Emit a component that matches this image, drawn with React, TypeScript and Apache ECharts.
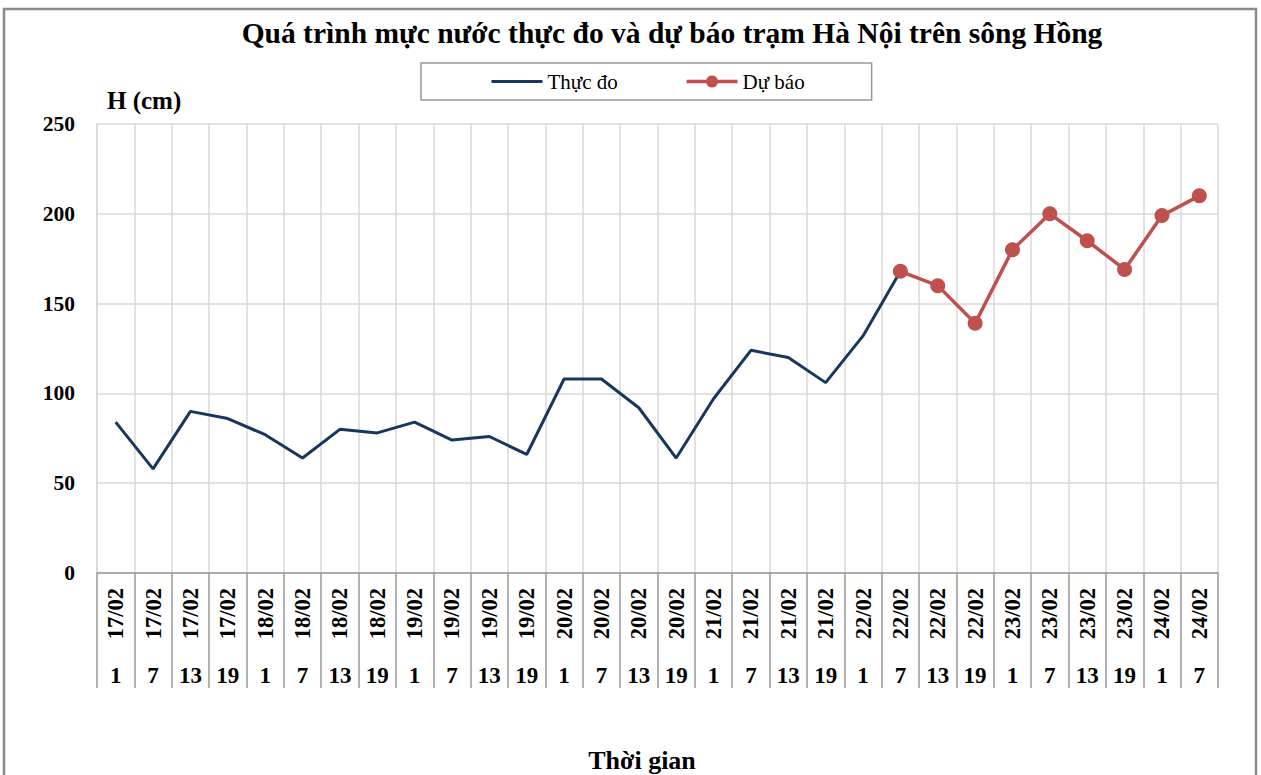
import React, { useEffect, useRef } from "react";
import * as echarts from "echarts";

const dates = [
  "17/02", "17/02", "17/02", "17/02",
  "18/02", "18/02", "18/02", "18/02",
  "19/02", "19/02", "19/02", "19/02",
  "20/02", "20/02", "20/02", "20/02",
  "21/02", "21/02", "21/02", "21/02",
  "22/02", "22/02", "22/02", "22/02",
  "23/02", "23/02", "23/02", "23/02",
  "24/02", "24/02",
];
const hours = [
  "1", "7", "13", "19", "1", "7", "13", "19", "1", "7", "13", "19",
  "1", "7", "13", "19", "1", "7", "13", "19", "1", "7", "13", "19",
  "1", "7", "13", "19", "1", "7",
];
const observed: (number | null)[] = [
  84, 58, 90, 86, 77, 64, 80, 78, 84, 74, 76, 66,
  108, 108, 92, 64, 97, 124, 120, 106, 132, 168,
  null, null, null, null, null, null, null, null,
];
const forecast: (number | null)[] = [
  null, null, null, null, null, null, null, null, null, null, null, null,
  null, null, null, null, null, null, null, null, null,
  168, 160, 139, 180, 200, 185, 169, 199, 210,
];
const yTicks = { min: 0, max: 250, interval: 50 };

const FONT = "'Liberation Serif', 'Times New Roman', serif";

export default function App() {
  const ref = useRef<HTMLDivElement>(null);
  useEffect(() => {
    if (!ref.current) return;
    const chart = echarts.init(ref.current, undefined, { renderer: "svg" });
    chart.setOption({
      animation: false,
      backgroundColor: "#ffffff",
      textStyle: { fontFamily: FONT },
      graphic: [
        {
          type: "rect",
          shape: { x: 4, y: 9, width: 1252, height: 820 },
          style: { fill: "none", stroke: "#8c8c8c", lineWidth: 2.5 },
          silent: true,
        },
        {
          type: "text",
          x: 672,
          y: 33,
          style: {
            text: "Quá trình mực nước thực đo và dự báo trạm Hà Nội trên sông Hồng",
            font: `bold 29.5px ${FONT}`,
            fill: "#000",
            align: "center",
            verticalAlign: "middle",
          },
        },
        {
          type: "text",
          x: 107,
          y: 100,
          style: {
            text: "H (cm)",
            font: `bold 25px ${FONT}`,
            fill: "#000",
            align: "left",
            verticalAlign: "middle",
          },
        },
        {
          type: "text",
          x: 642,
          y: 760,
          style: {
            text: "Thời gian",
            font: `bold 26px ${FONT}`,
            fill: "#000",
            align: "center",
            verticalAlign: "middle",
          },
        },
      ],
      legend: {
        left: 421,
        top: 63,
        padding: [8, 67, 8, 69],
        borderColor: "#999",
        borderWidth: 1.5,
        itemWidth: 51,
        itemHeight: 15,
        itemGap: 67,
        textStyle: { fontFamily: FONT, fontSize: 21, color: "#000" },
        data: [
          {
            name: "Thực đo",
            itemStyle: { color: "rgba(0,0,0,0)", borderColor: "rgba(0,0,0,0)", borderWidth: 0 },
            lineStyle: { width: 3 },
          },
          { name: "Dự báo", lineStyle: { width: 3.5 } },
        ],
      },
      grid: { left: 97, right: 43, top: 124, height: 449, containLabel: false },
      xAxis: [
        {
          type: "category",
          data: dates,
          position: "bottom",
          boundaryGap: true,
          axisLine: { show: true, lineStyle: { color: "#999", width: 1.5 } },
          axisTick: { show: true, interval: 0, length: 115, lineStyle: { color: "#999", width: 1.5 } },
          axisLabel: {
            interval: 0,
            rotate: 90,
            margin: 15,
            fontFamily: FONT,
            fontWeight: "bold",
            fontSize: 22.5,
            color: "#000",
          },
          splitLine: { show: true, interval: 0, lineStyle: { color: "#d9d9d9", width: 1.5 } },
        },
        {
          type: "category",
          data: hours,
          position: "bottom",
          boundaryGap: true,
          axisLine: { show: false },
          axisTick: { show: false },
          axisLabel: {
            interval: 0,
            margin: 91,
            fontFamily: FONT,
            fontWeight: "bold",
            fontSize: 23,
            color: "#000",
          },
          splitLine: { show: false },
        },
      ],
      yAxis: {
        type: "value",
        min: yTicks.min,
        max: yTicks.max,
        interval: yTicks.interval,
        axisLine: { show: true, lineStyle: { color: "#d9d9d9", width: 1.5 } },
        axisTick: { show: false },
        axisLabel: {
          margin: 22,
          fontFamily: FONT,
          fontWeight: "bold",
          fontSize: 21.5,
          color: "#000",
        },
        splitLine: { show: true, lineStyle: { color: "#d9d9d9", width: 1.5 } },
      },
      series: [
        {
          name: "Thực đo",
          type: "line",
          xAxisIndex: 0,
          data: observed,
          symbol: "none",
          showSymbol: false,
          lineStyle: { color: "#17375e", width: 3 },
          itemStyle: { color: "#17375e" },
          connectNulls: false,
        },
        {
          name: "Dự báo",
          type: "line",
          xAxisIndex: 0,
          data: forecast,
          symbol: "circle",
          symbolSize: 15,
          lineStyle: { color: "#c0504d", width: 3.5 },
          itemStyle: { color: "#c0504d" },
          connectNulls: false,
        },
      ],
    });
    return () => chart.dispose();
  }, []);
  return (
    <div
      ref={ref}
      style={{ position: "fixed", left: 0, top: 0, width: 1261, height: 775 }}
    />
  );
}
